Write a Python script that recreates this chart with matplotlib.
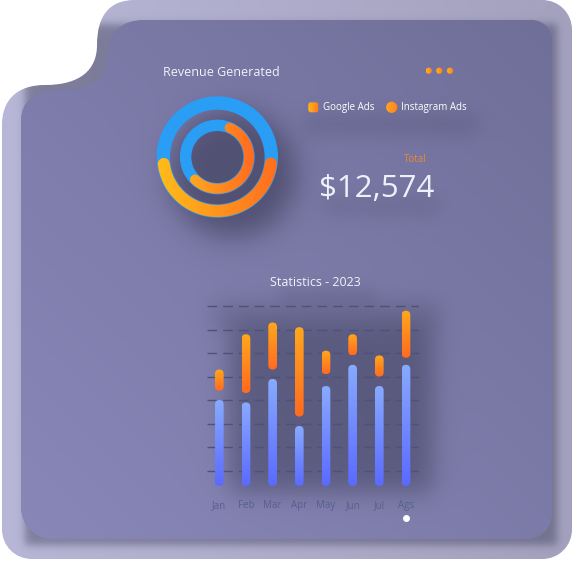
import numpy as np
import matplotlib
matplotlib.use("Agg")
import matplotlib.pyplot as plt
from matplotlib.path import Path
from matplotlib.patches import PathPatch, FancyBboxPatch, Circle, Wedge
from matplotlib.colors import LinearSegmentedColormap, to_rgb

plt.rcParams["font.family"] = ["Open Sans", "DejaVu Sans"]

# values
months = ["Jan", "Feb", "Mar", "Apr", "May", "Jun", "Jul", "Ags"]
blue_low = [3.5, 3.5, 3.5, 3.5, 3.5, 3.5, 3.5, 3.5]
blue_high = [40, 39, 49, 29, 46, 55, 46, 55]
orange_low = [44, 43, 53, 33, 51, 59, 50, 58]
orange_high = [53, 68, 73, 71, 61, 68, 59, 78]
grid_levels = [10, 20, 30, 40, 50, 60, 70, 80]

ring_shares = [46, 56]          # orange part of outer / inner ring, percent
legend_labels = ["Google Ads", "Instagram Ads"]
total_revenue = 12574

W, H = 574, 566
fig = plt.figure(figsize=(W / 100, H / 100), dpi=100)
fig.patch.set_facecolor("white")

DARK = np.array([0.22, 0.22, 0.33])


def cmap_of(colors):
    return LinearSegmentedColormap.from_list("g", colors)


def gradient_fill(ax, patch, extent, colors, horizontal=False, zorder=2):
    patch.set_facecolor("none")
    patch.set_edgecolor("none")
    ax.add_patch(patch)
    g = np.linspace(0, 1, 128)
    g = g[None, :] if horizontal else g[:, None]
    im = ax.imshow(g, cmap=cmap_of(colors), extent=extent, aspect="auto",
                   interpolation="bilinear", zorder=zorder)
    im.set_clip_path(patch)
    return im


def soft_box(xx, yy, x0, x1, y0, y1, s):
    fx = 0.5 * (np.tanh((xx - x0) / s) - np.tanh((xx - x1) / s))
    fy = 0.5 * (np.tanh((yy - y0) / s) - np.tanh((yy - y1) / s))
    return fx * fy


def soft_disc(xx, yy, cx, cy, r, s):
    d = np.hypot(xx - cx, yy - cy)
    return 0.5 * (1 - np.tanh((d - r) / s))


# ---- background card (pixel coordinates) ----
bg = fig.add_axes([0, 0, 1, 1])
bg.set_xlim(0, W)
bg.set_ylim(H, 0)
bg.axis("off")

M, L, C, Z = Path.MOVETO, Path.LINETO, Path.CURVE4, Path.CLOSEPOLY
shape_codes = [M, L, C, C, C, L, C, C, C, L, C, C, C, L, C, C, C, C, C, C, C, C, C, Z]
outer_verts = [
    (135, 0), (542, 0),
    (559, 0), (572, 13), (572, 30),
    (572, 529),
    (572, 546), (559, 559), (542, 559),
    (32, 559),
    (15, 559), (2, 546), (2, 529),
    (2, 125),
    (2, 100), (17, 85), (45, 85),
    (80, 85), (97, 70), (97, 45),
    (97, 15), (110, 0), (135, 0),
    (135, 0)]
inner_verts = [
    (145, 20), (532, 20),
    (543, 20), (552, 29), (552, 40),
    (552, 514),
    (552, 528), (541, 539), (527, 539),
    (52, 539),
    (35, 539), (21, 525), (21, 508),
    (21, 120),
    (21, 101), (36, 90), (58, 90),
    (90, 90), (105, 80), (107, 60),
    (108, 35), (118, 20), (145, 20),
    (145, 20)]

outer_patch = PathPatch(Path(outer_verts, shape_codes), fc="none", ec="none")
inner_patch = PathPatch(Path(inner_verts, shape_codes), fc="none", ec="none")
bg.add_patch(outer_patch)
bg.add_patch(inner_patch)

yy, xx = np.mgrid[0:H, 0:W] + 0.5

t = (xx / W)[..., None]
outer_rgb = np.array(to_rgb("#b9b7d7")) * (1 - t) + np.array(to_rgb("#a3a1bd")) * t
edge = (soft_box(xx, yy, 25, 557, 24, 545, 5) * 0.45)[..., None]
outer_rgb = outer_rgb * (1 - edge) + DARK * edge
im = bg.imshow(np.clip(outer_rgb, 0, 1), extent=(0, W, H, 0), zorder=1)
im.set_clip_path(outer_patch)

t2 = ((xx / W + 1 - yy / H) / 2)[..., None]
card_rgb = np.array(to_rgb("#8a88b9")) * (1 - t2) + np.array(to_rgb("#6f6e98")) * t2
shade = 1 - ((1 - 0.62 * soft_disc(xx, yy, 233, 174, 62, 17))
             * (1 - 0.5 * soft_box(xx, yy, 230, 433, 322, 492, 15))
             * (1 - 0.2 * soft_box(xx, yy, 212, 440, 300, 330, 12))
             * (1 - 0.18 * soft_box(xx, yy, 305, 478, 112, 136, 10))
             * (1 - 0.15 * soft_box(xx, yy, 322, 440, 196, 216, 10))
             * (1 - 0.14 * soft_box(xx, yy, 280, 375, 288, 304, 8)))
shade = shade[..., None]
card_rgb = card_rgb * (1 - shade) + DARK * shade
im = bg.imshow(np.clip(card_rgb, 0, 1), extent=(0, W, H, 0), zorder=2)
im.set_clip_path(inner_patch)

# texts
bg.text(162.7, 72.7, "Revenue Generated", fontsize=9, color="#f2f2fa",
        ha="left", va="center", zorder=5)
bg.text(315, 282.7, "Statistics - 2023", fontsize=9, color="#f2f2fa",
        ha="center", va="center", zorder=5)
bg.text(415, 160, "Total", fontsize=7, color="#ec8734",
        ha="center", va="center", zorder=5)
bg.text(376.7, 189.3, f"${total_revenue:,}", fontsize=22.5, color="#eef0fa",
        ha="center", va="center", zorder=5)

# three dots menu
for cx in (428.7, 439.3, 450.0):
    gradient_fill(bg, Circle((cx, 70.7), 3.1), (cx - 3.2, cx + 3.2, 74, 67.5),
                  ["#ffb21c", "#ff7a1f"], horizontal=True, zorder=5)

# legend
gradient_fill(bg, FancyBboxPatch((308.3, 102.3), 10, 10,
                                 boxstyle="round,pad=0,rounding_size=2.5"),
              (308, 319, 113, 102), ["#ffb51c", "#ff7a1f"], horizontal=True, zorder=5)
gradient_fill(bg, Circle((391.7, 107.3), 5.6), (386, 397.5, 113, 101.5),
              ["#ffa81c", "#ff7e1f"], horizontal=True, zorder=5)
bg.text(322.7, 107.3, legend_labels[0], fontsize=7, color="white", ha="left", va="center", zorder=5)
bg.text(401, 107.3, legend_labels[1], fontsize=7, color="white", ha="left", va="center", zorder=5)

# ---- donut ----
dax = fig.add_axes([147.3 / W, (H - 157 - 70) / H, 140 / W, 140 / H])
dax.axis("off")
ring_mid = [54, 31.7]
ring_width = [12, 10]
arc_start = [-7, 67]
arc_colors = [["#ffc01a", "#ff6a1e"], ["#ffb51f", "#ff6520"]]


def round_arc(r_mid, w, a1, a2, n=160):
    ro, ri, hw = r_mid + w / 2, r_mid - w / 2, w / 2
    th = np.radians(np.linspace(a1, a2, n))
    pts = [np.c_[ro * np.cos(th), ro * np.sin(th)]]
    t_end, t_beg = th[-1], th[0]
    phi = t_end - np.linspace(0, np.pi, 40)
    pts.append(np.c_[r_mid * np.cos(t_end) + hw * np.cos(phi), r_mid * np.sin(t_end) + hw * np.sin(phi)])
    pts.append(np.c_[ri * np.cos(th[::-1]), ri * np.sin(th[::-1])])
    phi = t_beg + np.pi - np.linspace(0, np.pi, 40)
    pts.append(np.c_[r_mid * np.cos(t_beg) + hw * np.cos(phi), r_mid * np.sin(t_beg) + hw * np.sin(phi)])
    return Path(np.vstack(pts), closed=False)


for share, rm, rw, a0, cols in zip(ring_shares, ring_mid, ring_width, arc_start, arc_colors):
    dax.add_patch(Wedge((0, 0), rm + rw / 2, 0, 360, width=rw, color="#2a9df5", zorder=2))
    span = share / 100 * 360
    ext = rm + rw
    gradient_fill(dax, PathPatch(round_arc(rm, rw, a0, a0 - span)), (-ext, ext, -ext, ext),
                  cols, horizontal=True, zorder=3)
dax.set_xlim(-70, 70)
dax.set_ylim(-70, 70)
dax.set_aspect("equal")

# ---- bar chart ----
ax = fig.add_axes([207.3 / W, (H - 494.2) / H, 212 / W, 192.9 / H])
ax.patch.set_alpha(0)
for sp in ax.spines.values():
    sp.set_visible(False)
xlim, ylim = (-0.45, 7.5), (0, 82)
x_per_px = (xlim[1] - xlim[0]) / 212
y_per_px = (ylim[1] - ylim[0]) / 192.9
aspect = y_per_px / x_per_px
bw = 8.7 * x_per_px

for g in grid_levels:
    ax.axhline(g, color="#4d5376", lw=1, ls=(0, (7, 4.3)), zorder=1)


def grad_bar(x, lo, hi, colors):
    p = FancyBboxPatch((x - bw / 2, lo), bw, hi - lo,
                       boxstyle=f"round,pad=0,rounding_size={bw / 2}",
                       mutation_aspect=aspect)
    gradient_fill(ax, p, (x - bw / 2, x + bw / 2, lo, hi), colors, zorder=3)


for i in range(len(months)):
    grad_bar(i, blue_low[i], blue_high[i], ["#88aaff", "#5a6aff"])
    grad_bar(i, orange_low[i], orange_high[i], ["#ffa81c", "#ff6a20"])

ax.plot(7, -10.2, "o", color="white", ms=5, mec="none", clip_on=False, zorder=4)
ax.set_xticks(range(len(months)))
ax.set_xticklabels(months, fontsize=7, color="#55608c")
ax.tick_params(axis="x", length=0, pad=4)
ax.set_yticks([])
ax.set_xlim(*xlim)
ax.set_ylim(*ylim)

fig.savefig("out.png", dpi=100, facecolor="white")
